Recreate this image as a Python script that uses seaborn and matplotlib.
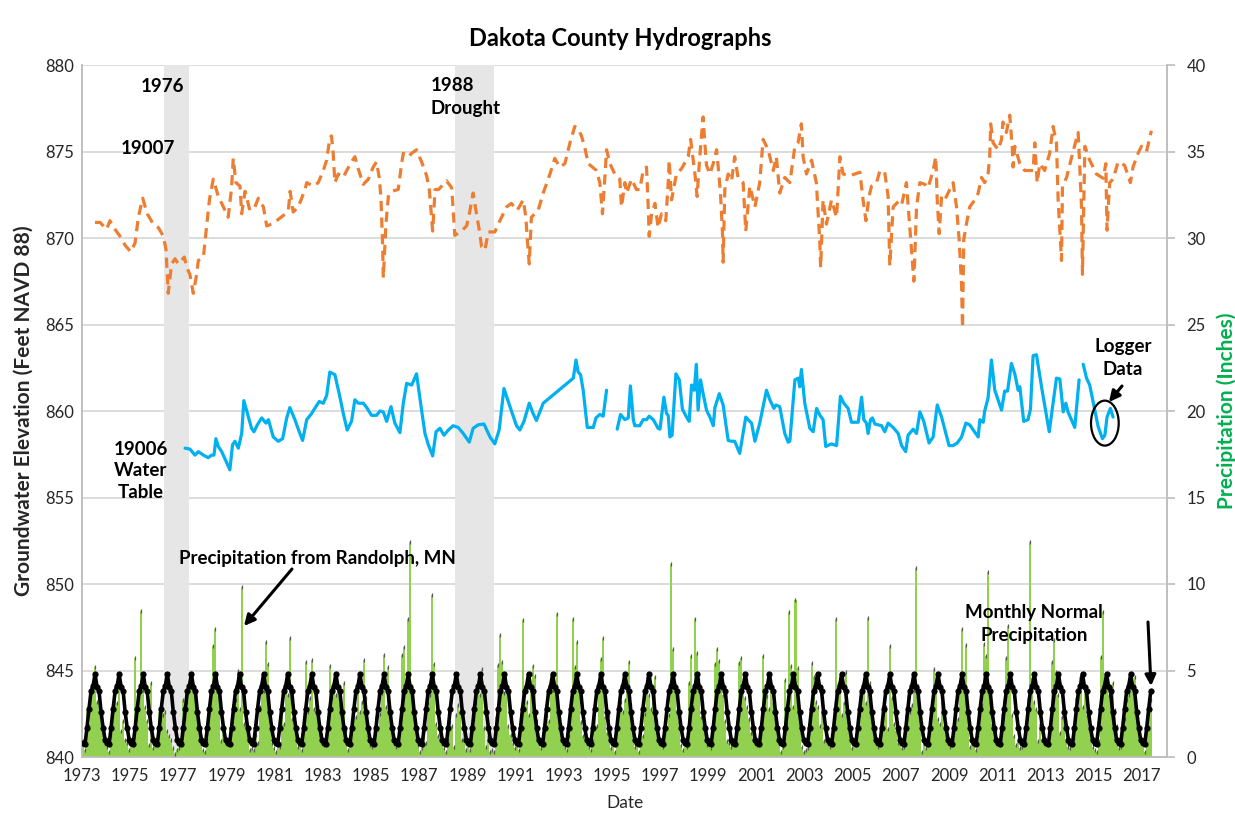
import numpy as np
import pandas as pd
import matplotlib
matplotlib.use("Agg")
import matplotlib.pyplot as plt
import seaborn as sns
from matplotlib.patches import Ellipse, FancyArrowPatch

# --- Well 19007 (decimal year, ft NAVD 88) ---
well_19007_year = [
    1973.54, 1973.75, 1974.02, 1974.16, 1974.37, 1974.58, 1974.78, 1975.02, 1975.2, 1975.34,
    1975.52, 1975.71, 1975.96, 1976.17, 1976.38, 1976.49, 1976.58, 1976.72, 1976.86, 1977.0,
    1977.25, 1977.35, 1977.48, 1977.62, 1977.76, 1977.83, 1978.04, 1978.17, 1978.29, 1978.45,
    1978.66, 1978.87, 1979.07, 1979.21, 1979.28, 1979.39, 1979.56, 1979.63, 1979.77, 1979.97,
    1980.18, 1980.32, 1980.53, 1980.67, 1980.87, 1981.08, 1981.36, 1981.57, 1981.64, 1981.77,
    1981.98, 1982.26, 1982.33, 1982.6, 1982.81, 1983.02, 1983.16, 1983.29, 1983.36, 1983.43,
    1983.5, 1983.64, 1983.85, 1983.99, 1984.19, 1984.33, 1984.47, 1984.68, 1984.89, 1985.09,
    1985.23, 1985.34, 1985.41, 1985.48, 1985.51, 1985.62, 1985.72, 1985.85, 1986.13, 1986.27,
    1986.34, 1986.55, 1986.69, 1986.89, 1987.1, 1987.31, 1987.42, 1987.56, 1987.66, 1987.8,
    1988.14, 1988.35, 1988.48, 1988.76, 1988.97, 1989.11, 1989.24, 1989.38, 1989.52, 1989.59,
    1989.73, 1989.87, 1990.14, 1990.35, 1990.63, 1990.83, 1991.07, 1991.32, 1991.43, 1991.49,
    1991.57, 1991.66, 1991.94, 1992.15, 1992.43, 1992.63, 1992.84, 1993.05, 1993.26, 1993.46,
    1993.6, 1993.74, 1993.88, 1994.02, 1994.36, 1994.5, 1994.61, 1994.71, 1994.78, 1994.92,
    1995.12, 1995.33, 1995.4, 1995.54, 1995.61, 1995.82, 1996.02, 1996.16, 1996.3, 1996.44,
    1996.51, 1996.55, 1996.65, 1996.79, 1996.92, 1997.06, 1997.24, 1997.34, 1997.38, 1997.48,
    1997.68, 1997.89, 1998.17, 1998.27, 1998.45, 1998.54, 1998.63, 1998.72, 1998.79, 1998.86,
    1998.93, 1999.07, 1999.21, 1999.35, 1999.41, 1999.51, 1999.6, 1999.62, 1999.69, 1999.83,
    1999.97, 2000.1, 2000.24, 2000.45, 2000.56, 2000.73, 2000.94, 2001.14, 2001.28, 2001.49,
    2001.7, 2001.83, 2001.97, 2002.18, 2002.39, 2002.6, 2002.73, 2002.87, 2002.94, 2003.08,
    2003.29, 2003.49, 2003.63, 2003.67, 2003.77, 2003.91, 2004.12, 2004.33, 2004.47, 2004.6,
    2004.88, 2005.3, 2005.43, 2005.55, 2005.68, 2005.78, 2005.99, 2006.13, 2006.33, 2006.47,
    2006.54, 2006.68, 2006.89, 2007.03, 2007.23, 2007.34, 2007.44, 2007.54, 2007.65, 2007.79,
    2008.0, 2008.13, 2008.34, 2008.45, 2008.51, 2008.59, 2008.69, 2008.82, 2009.03, 2009.17,
    2009.31, 2009.42, 2009.52, 2009.56, 2009.61, 2009.72, 2009.86, 2010.07, 2010.21, 2010.35,
    2010.48, 2010.62, 2010.69, 2010.73, 2010.83, 2011.04, 2011.18, 2011.24, 2011.38, 2011.52,
    2011.63, 2011.66, 2011.73, 2011.94, 2012.14, 2012.49, 2012.56, 2012.66, 2012.77, 2012.97,
    2013.18, 2013.32, 2013.46, 2013.49, 2013.53, 2013.6, 2013.67, 2013.71, 2013.88, 2014.15,
    2014.36, 2014.43, 2014.5, 2014.54, 2014.64, 2014.84, 2015.12, 2015.4, 2015.51, 2015.56,
    2015.67, 2015.81, 2016.02, 2016.29, 2016.53, 2016.64, 2016.85, 2016.99, 2017.2, 2017.4,
]
well_19007_ft = [
    870.9, 870.9, 870.5, 871.0, 870.5, 870.1, 869.6, 869.2, 869.7, 871.2,
    872.3, 871.4, 870.8, 870.6, 870.1, 869.3, 866.8, 868.5, 868.8, 868.5,
    868.9, 868.3, 867.9, 866.8, 867.9, 868.7, 868.9, 870.6, 872.2, 873.4,
    872.4, 871.8, 871.2, 872.9, 874.6, 873.2, 873.0, 871.4, 872.7, 871.6,
    871.8, 872.3, 871.8, 870.7, 870.8, 871.0, 871.3, 871.6, 872.7, 871.5,
    871.8, 872.8, 873.2, 873.0, 873.2, 873.9, 874.5, 875.8, 875.9, 874.9,
    873.2, 873.7, 873.5, 873.9, 874.4, 874.7, 874.0, 873.1, 873.4, 874.1,
    874.4, 873.5, 872.4, 869.7, 867.7, 870.8, 872.4, 872.7, 872.8, 874.3,
    874.9, 874.7, 874.9, 875.1, 874.4, 873.6, 872.8, 870.4, 872.8, 872.8,
    873.3, 872.9, 870.15, 870.4, 870.7, 871.6, 872.6, 871.4, 870.25, 869.5,
    869.3, 870.35, 870.35, 871.0, 871.8, 872.0, 871.6, 872.2, 871.2, 869.9,
    868.5, 871.2, 871.6, 872.6, 873.7, 874.6, 874.1, 874.3, 875.5, 876.45,
    876.3, 875.9, 875.2, 874.3, 873.9, 873.2, 871.4, 873.5, 875.1, 874.3,
    873.7, 873.4, 871.8, 873.2, 872.6, 873.4, 872.8, 872.8, 873.9, 874.1,
    871.8, 870.1, 871.4, 872.0, 870.6, 871.4, 871.0, 873.2, 874.5, 872.2,
    873.7, 874.0, 874.7, 875.7, 873.7, 872.4, 874.3, 875.9, 877.0, 875.5,
    874.2, 873.7, 874.3, 875.1, 874.2, 872.6, 870.1, 868.6, 872.8, 873.7,
    873.3, 874.7, 873.5, 873.2, 870.4, 873.0, 871.8, 873.2, 875.7, 875.1,
    873.9, 874.7, 872.6, 873.5, 873.2, 875.3, 875.5, 876.6, 874.7, 873.7,
    874.5, 873.2, 869.9, 868.3, 872.2, 870.8, 872.2, 871.2, 874.7, 873.7,
    873.6, 873.8, 872.2, 871.0, 872.4, 873.0, 873.2, 873.9, 873.8, 872.4,
    868.4, 871.8, 872.1, 871.9, 873.2, 871.2, 869.3, 867.5, 871.8, 873.2,
    873.1, 872.9, 873.9, 874.7, 872.2, 870.25, 872.4, 872.2, 872.8, 873.2,
    871.8, 869.9, 867.3, 864.8, 869.9, 870.8, 871.8, 872.2, 872.6, 873.5,
    873.2, 873.7, 874.7, 876.6, 875.5, 875.1, 875.7, 876.7, 876.1, 877.1,
    875.1, 874.1, 875.3, 874.3, 873.9, 873.9, 875.5, 873.2, 874.3, 873.9,
    874.9, 876.45, 875.5, 874.1, 872.2, 870.45, 868.7, 873.0, 873.5, 875.0,
    876.1, 874.1, 871.8, 867.9, 875.3, 874.5, 873.7, 873.45, 874.3, 870.45,
    873.2, 873.4, 874.4, 874.2, 873.2, 874.1, 874.9, 875.3, 875.0, 876.2,
]

# --- Well 19006 water table (decimal year, ft NAVD 88) ---
well_19006_year = [
    1977.28, 1977.48, 1977.69, 1977.83, 1978.04, 1978.24, 1978.38, 1978.48, 1978.56, 1978.66,
    1978.8, 1978.98, 1979.14, 1979.25, 1979.35, 1979.49, 1979.63, 1979.72, 1979.83, 1980.04,
    1980.14, 1980.28, 1980.46, 1980.64, 1980.74, 1980.94, 1981.15, 1981.33, 1981.5, 1981.63,
    1981.84, 1982.02, 1982.16, 1982.33, 1982.53, 1982.71, 1982.85, 1983.02, 1983.16, 1983.29,
    1983.5, 1983.71, 1983.85, 1984.01, 1984.19, 1984.33, 1984.47, 1984.68, 1984.82, 1985.02,
    1985.23, 1985.37, 1985.51, 1985.65, 1985.83, 1985.99, 1986.2, 1986.34, 1986.48, 1986.69,
    1986.89, 1987.1, 1987.24, 1987.38, 1987.56, 1987.7, 1987.86, 1988.03, 1988.21, 1988.41,
    1988.62, 1988.83, 1989.08, 1989.24, 1989.45, 1989.69, 1989.94, 1990.14, 1990.32, 1990.52,
    1990.77, 1991.04, 1991.18, 1991.35, 1991.57, 1991.73, 1991.87, 1992.15, 1993.4, 1993.51,
    1993.6, 1993.7, 1993.81, 1993.98, 1994.23, 1994.34, 1994.5, 1994.64, 1994.78,
    1995.22, 1995.36, 1995.54, 1995.68, 1995.77, 1995.89, 1995.95, 1996.16, 1996.3, 1996.44,
    1996.55, 1996.72, 1996.92, 1997.0, 1997.16, 1997.27, 1997.34, 1997.41, 1997.5, 1997.66,
    1997.8, 1997.93, 1998.1, 1998.21, 1998.31, 1998.42, 1998.51, 1998.58, 1998.68, 1998.79,
    1998.93, 1999.07, 1999.21, 1999.28, 1999.46, 1999.62, 1999.83, 1999.97, 2000.1, 2000.31,
    2000.56, 2000.66, 2000.8, 2000.94, 2001.14, 2001.42, 2001.56, 2001.73, 2001.81, 2001.97,
    2002.18, 2002.32, 2002.39, 2002.6, 2002.74, 2002.8, 2002.87, 2003.01, 2003.22, 2003.36,
    2003.5, 2003.64, 2003.77, 2003.88, 2004.12, 2004.33, 2004.49, 2004.63, 2004.81, 2004.95,
    2005.23, 2005.37, 2005.46, 2005.57, 2005.64, 2005.74, 2005.82, 2005.92, 2006.2, 2006.33,
    2006.47, 2006.68, 2006.89, 2007.03, 2007.2, 2007.3, 2007.51, 2007.65, 2007.79, 2007.95,
    2008.17, 2008.34, 2008.51, 2008.69, 2009.0, 2009.17, 2009.34, 2009.52, 2009.7, 2009.86,
    2010.03, 2010.21, 2010.28, 2010.35, 2010.42, 2010.48, 2010.62, 2010.76, 2010.9, 2011.18,
    2011.31, 2011.43, 2011.59, 2011.73, 2011.87, 2011.94, 2012.1, 2012.28, 2012.38, 2012.49,
    2012.63, 2012.84, 2013.16, 2013.46, 2013.6, 2013.74, 2013.85, 2013.94, 2014.22, 2014.4,
    2014.57, 2014.71, 2014.84, 2014.98, 2015.19, 2015.37, 2015.47, 2015.56, 2015.7, 2015.81,
]
well_19006_ft = [
    857.85, 857.8, 857.45, 857.65, 857.45, 857.3, 857.45, 857.45, 858.4, 857.95,
    857.65, 857.1, 856.6, 858.05, 858.25, 857.85, 858.7, 860.6, 860.05, 859.0,
    858.8, 859.2, 859.6, 859.3, 859.5, 858.5, 858.25, 858.4, 859.6, 860.2,
    859.5, 858.8, 858.3, 859.5, 859.85, 860.25, 860.55, 860.45, 860.9, 862.25,
    862.1, 860.8, 859.85, 858.9, 859.4, 860.65, 860.45, 860.45, 860.2, 859.75,
    859.75, 860.0, 859.95, 859.4, 860.25, 859.3, 858.75, 860.45, 861.6, 861.5,
    862.15, 860.05, 858.7, 858.05, 857.4, 858.8, 859.0, 858.6, 858.9, 859.15,
    859.05, 858.7, 858.2, 859.0, 859.2, 859.25, 858.5, 858.1, 858.9, 861.3,
    860.25, 859.15, 858.9, 859.4, 860.45, 859.85, 859.45, 860.45, 861.9, 862.95,
    862.25, 862.1, 861.2, 859.05, 859.05, 859.6, 859.8, 859.7, 861.2,
    858.95, 859.8, 859.5, 859.6, 861.45, 859.5, 859.15, 859.15, 859.5, 859.5,
    859.7, 859.5, 859.0, 858.95, 860.8, 859.85, 859.75, 858.5, 858.6, 862.15,
    861.8, 860.1, 859.65, 859.4, 861.5, 861.2, 862.7, 860.05, 861.8, 861.0,
    860.05, 859.65, 859.15, 860.2, 861.0, 860.35, 858.3, 858.25, 858.25, 857.55,
    859.65, 859.5, 859.3, 858.25, 859.3, 861.2, 860.65, 860.15, 860.35, 860.25,
    858.7, 858.2, 858.25, 861.8, 861.9, 861.4, 862.4, 860.45, 859.0, 858.8,
    860.15, 859.75, 859.5, 857.95, 858.1, 858.0, 860.85, 860.45, 860.15, 859.35,
    859.35, 860.8, 859.5, 859.3, 858.7, 859.5, 859.6, 859.25, 859.15, 858.8,
    859.3, 859.05, 858.7, 858.0, 857.65, 858.6, 858.95, 858.7, 859.95, 859.4,
    858.15, 858.5, 860.35, 859.65, 858.0, 858.0, 858.15, 858.5, 859.3, 859.2,
    858.85, 858.5, 859.5, 859.4, 859.35, 860.0, 860.75, 862.95, 861.2, 860.05,
    861.15, 861.15, 862.75, 862.15, 861.2, 861.4, 859.4, 859.5, 860.1, 863.2,
    863.25, 861.4, 858.8, 861.9, 861.85, 859.95, 860.45, 859.95, 859.05, 861.8,
    862.7, 861.9, 861.5, 860.55, 859.1, 858.4, 858.6, 859.65, 860.15, 859.65,
]
# record breaks (no readings in between)
well_19006_breaks = [1995.0, 2014.5]

# --- Monthly precipitation at Randolph, MN (inches), Jan 1973 - May 2017 ---
precip_start_year = 1973
precip_in = [
    0.9, 0.4, 2.7, 1.8, 3.6, 3.9, 5.2, 3.2, 3.4, 2.3, 1.4, 0.9,     # 1973
    0.6, 0.3, 1.3, 2.5, 4.1, 3.1, 4.2, 1.5, 2.1, 1.0, 0.8, 0.4,     # 1974
    1.0, 0.9, 5.75, 2.6, 3.8, 8.45, 3.9, 2.9, 2.1, 0.7, 4.25, 0.5,  # 1975
    0.7, 0.9, 2.6, 2.7, 2.4, 2.6, 1.5, 1.2, 1.0, 0.5, 0.2, 0.4,     # 1976
    0.5, 0.9, 3.3, 2.2, 3.2, 3.9, 4.6, 4.2, 3.9, 2.6, 1.8, 1.2,     # 1977
    0.4, 0.3, 1.0, 2.9, 3.7, 6.4, 7.4, 4.8, 3.6, 0.9, 1.7, 0.8,     # 1978
    0.9, 1.1, 2.2, 3.0, 3.3, 5.0, 2.8, 9.85, 1.9, 1.8, 1.2, 0.4,    # 1979
    0.5, 0.4, 1.3, 0.8, 2.9, 4.3, 3.8, 6.65, 5.4, 1.6, 0.8, 0.5,    # 1980
    0.3, 0.9, 0.6, 2.6, 1.9, 4.4, 3.6, 6.85, 2.2, 2.4, 1.5, 0.6,    # 1981
    0.9, 0.4, 1.8, 5.5, 2.6, 3.4, 5.6, 2.8, 3.4, 2.9, 1.4, 1.3,     # 1982
    0.7, 0.9, 2.3, 5.25, 3.4, 3.9, 3.6, 4.1, 3.0, 2.7, 4.3, 1.5,    # 1983
    0.4, 1.1, 1.9, 2.8, 2.3, 3.9, 2.6, 3.2, 5.6, 3.4, 1.2, 0.7,     # 1984
    0.6, 0.8, 2.3, 1.6, 2.5, 3.7, 5.9, 2.9, 5.2, 2.8, 1.8, 0.9,     # 1985
    0.6, 0.8, 1.9, 5.9, 6.35, 3.8, 7.95, 12.45, 4.1, 2.6, 1.5, 0.7, # 1986
    0.3, 0.5, 1.9, 0.8, 3.1, 3.6, 9.35, 5.4, 1.9, 1.2, 1.4, 0.9,    # 1987
    0.5, 0.3, 1.0, 2.0, 1.8, 0.6, 2.4, 3.0, 2.6, 1.0, 1.9, 0.4,     # 1988
    0.7, 0.4, 1.6, 2.2, 3.1, 4.2, 3.6, 5.1, 1.7, 0.6, 1.2, 0.3,     # 1989
    0.4, 0.3, 2.3, 5.3, 7.05, 5.5, 3.7, 4.2, 1.8, 1.3, 0.8, 0.5,    # 1990
    0.7, 0.4, 2.5, 7.9, 3.6, 3.2, 2.4, 4.0, 5.25, 4.7, 2.1, 0.8,    # 1991
    0.5, 0.7, 1.9, 2.4, 2.1, 3.8, 3.9, 4.0, 8.25, 2.5, 1.9, 1.0,    # 1992
    0.6, 0.4, 1.2, 2.6, 8.0, 5.2, 6.65, 4.3, 2.0, 1.2, 1.6, 0.8,    # 1993
    0.6, 0.4, 0.9, 2.9, 1.8, 4.4, 5.65, 6.9, 2.3, 1.4, 2.4, 0.5,    # 1994
    0.8, 0.3, 1.8, 2.4, 3.2, 2.6, 3.3, 4.2, 5.5, 3.0, 1.4, 0.6,     # 1995
    1.0, 0.3, 1.6, 1.2, 2.5, 4.6, 3.6, 2.8, 3.2, 4.65, 2.1, 0.9,    # 1996
    0.8, 0.6, 1.4, 1.7, 2.4, 11.15, 6.25, 3.8, 2.7, 2.0, 0.7, 0.4,  # 1997
    0.9, 0.6, 4.25, 5.85, 2.9, 8.0, 6.0, 4.5, 2.3, 3.1, 1.4, 0.7,   # 1998
    1.0, 0.5, 1.8, 5.4, 6.25, 5.55, 4.0, 3.6, 2.1, 0.9, 0.8, 0.6,   # 1999
    0.8, 0.9, 1.6, 5.45, 5.75, 4.4, 3.4, 2.9, 2.2, 1.4, 2.6, 1.1,   # 2000
    0.7, 0.9, 1.2, 5.85, 3.9, 3.5, 2.8, 4.2, 3.1, 2.2, 1.8, 0.8,    # 2001
    0.3, 0.6, 4.45, 1.9, 8.4, 5.25, 2.9, 9.05, 5.15, 2.6, 0.6, 0.3, # 2002
    0.4, 0.5, 1.8, 5.45, 4.6, 3.2, 2.9, 1.8, 2.6, 0.9, 1.6, 0.8,    # 2003
    0.6, 1.0, 2.3, 7.95, 4.2, 4.0, 2.4, 3.1, 4.9, 2.7, 1.3, 0.5,    # 2004
    0.9, 0.7, 1.6, 2.4, 3.7, 4.4, 3.1, 8.05, 4.3, 2.9, 1.5, 0.8,    # 2005
    0.6, 0.8, 1.9, 3.1, 2.9, 1.6, 6.4, 3.4, 1.9, 1.5, 0.8, 1.5,     # 2006
    0.5, 0.6, 2.4, 3.6, 2.6, 3.0, 3.9, 10.9, 4.1, 2.8, 0.3, 1.0,    # 2007
    0.5, 0.7, 1.7, 2.9, 5.1, 4.4, 2.2, 1.9, 3.2, 1.8, 1.3, 1.2,     # 2008
    0.6, 0.8, 2.0, 2.4, 2.2, 4.3, 7.4, 3.8, 6.5, 2.5, 0.6, 1.6,     # 2009
    0.7, 0.4, 1.3, 2.3, 3.0, 6.55, 5.85, 10.7, 3.2, 1.9, 1.7, 1.5,  # 2010
    0.8, 0.7, 2.5, 3.3, 5.7, 7.55, 4.2, 2.4, 1.2, 0.7, 0.9, 0.5,    # 2011
    0.6, 0.9, 1.7, 3.4, 12.45, 4.55, 3.2, 2.8, 0.9, 1.9, 1.0, 1.1,  # 2012
    0.8, 0.7, 1.6, 5.5, 6.75, 4.9, 3.6, 1.4, 2.3, 2.9, 0.9, 0.6,    # 2013
    0.5, 0.9, 1.1, 3.4, 2.8, 4.6, 2.9, 3.9, 2.4, 1.6, 1.4, 0.6,     # 2014
    0.4, 0.3, 0.9, 5.8, 8.4, 4.3, 4.1, 3.6, 3.0, 4.25, 2.7, 1.8,    # 2015
    0.5, 0.6, 1.8, 2.2, 3.3, 3.6, 4.1, 3.7, 4.6, 2.5, 1.9, 0.9,     # 2016
    0.8, 0.3, 1.6, 3.1, 3.3,                                        # 2017
]

# Monthly normal precipitation (Jan..Dec), repeats every year
normal_monthly_in = [0.8, 0.75, 1.7, 2.8, 3.8, 4.1, 4.8, 4.05, 3.8, 2.6, 1.7, 1.0]

drought_spans = [(1976.40, 1977.44), (1988.48, 1990.10)]
year_ticks = list(range(1973, 2018, 2))

# --- build frames ---
df07 = pd.DataFrame({"year": well_19007_year, "ft": well_19007_ft})
df06 = pd.DataFrame({"year": well_19006_year, "ft": well_19006_ft})
df06["seg"] = np.searchsorted(well_19006_breaks, df06["year"])

n_months = len(precip_in)
month_idx = np.arange(n_months)
dfp = pd.DataFrame({
    "year": precip_start_year + month_idx // 12 + (month_idx % 12 + 0.5) / 12,
    "precip": precip_in,
    "normal": np.array(normal_monthly_in)[month_idx % 12],
})

# --- style ---
sns.set_theme(style="white")
plt.rcParams["font.family"] = ["Lato", "DejaVu Sans"]
W, H = 1235, 821
fig = plt.figure(figsize=(W / 100, H / 100), dpi=100)
ax = fig.add_axes([82 / W, 1 - 757 / H, (1167 - 82) / W, (757 - 65) / H])
ax2 = ax.twinx()

grid_c = "#D9D9D9"
axis_c = "#BFBFBF"
txt_c = "#262626"

# groundwater axis
ax.set_xlim(1973, 2018.05)
ax.set_ylim(840, 880)
ax.set_yticks(range(840, 881, 5))
ax.set_xticks(year_ticks)
ax.set_xticklabels([str(y) for y in year_ticks])
ax.yaxis.grid(True, color=grid_c, lw=1.3, zorder=0)
ax.set_axisbelow(True)

for a, b in drought_spans:
    ax.axvspan(a, b, color="#E7E6E6", lw=0, zorder=1)

sns.lineplot(data=df07, x="year", y="ft", ax=ax, color="#ED7D31", lw=2.3,
             linestyle=(0, (3.2, 2.0)), sort=False, zorder=3)
sns.lineplot(data=df06, x="year", y="ft", units="seg", estimator=None, ax=ax,
             color="#00B0F0", lw=2.3, sort=False, zorder=3)

ax.add_patch(Ellipse((2015.47, 859.3), 1.15, 2.6, fill=False, ec="black", lw=1.6, zorder=4))

# precipitation axis
ax2.set_ylim(0, 40)
ax2.set_yticks(range(0, 41, 5))
ax2.bar(dfp["year"], dfp["precip"], width=1 / 12, color="#92D050", lw=0, zorder=2)
ax2.plot(dfp["year"], dfp["precip"], ls="none", marker="|", ms=3, mew=0.9, color="#595959", zorder=3)
sns.lineplot(data=dfp, x="year", y="normal", ax=ax2, color="black", lw=2.6,
             marker="o", markersize=4.5, markeredgewidth=0, sort=False, zorder=4)

# spines / ticks
for a in (ax, ax2):
    a.spines["top"].set_visible(False)
    for s in ("left", "right", "bottom"):
        a.spines[s].set_color(axis_c)
        a.spines[s].set_linewidth(1.2)
ax.tick_params(axis="x", direction="out", length=5, color=axis_c, labelsize=12, labelcolor=txt_c, pad=3)
ax.tick_params(axis="y", length=0, labelsize=12, labelcolor=txt_c, pad=6)
ax2.tick_params(axis="y", direction="out", length=6, color=axis_c, labelsize=12, labelcolor=txt_c, pad=8)

ax.set_xlabel("Date", fontsize=12.5, color=txt_c, labelpad=8)
ax.set_ylabel("Groundwater Elevation (Feet NAVD 88)", fontsize=15, fontweight="bold", color=txt_c, labelpad=8)
ax2.set_ylabel("Precipitation (Inches)", fontsize=15, fontweight="bold", color="#00B050",
               rotation=90, labelpad=8)

fig.text(620 / W, 1 - 38 / H, "Dakota County Hydrographs", ha="center", va="center",
         fontsize=17, fontweight="bold", color="black")


def fx(x, y):
    return (x / W, 1 - y / H)


bold = dict(fontweight="bold", color="black", fontsize=13.5)
fig.text(*fx(162, 87), "1976", ha="center", va="center", **bold)
fig.text(*fx(148, 149), "19007", ha="center", va="center", **bold)
fig.text(*fx(431, 77), "1988\nDrought", ha="left", va="top", linespacing=1.45, **bold)
fig.text(*fx(141, 471), "19006\nWater\nTable", ha="center", va="center", multialignment="center",
         linespacing=1.3, **bold)
fig.text(*fx(317, 558), "Precipitation from Randolph, MN", ha="center", va="center", **bold)
fig.text(*fx(1123, 358), "Logger\nData", ha="center", va="center", multialignment="center",
         linespacing=1.4, **bold)
fig.text(*fx(1034, 624), "Monthly Normal\nPrecipitation", ha="center", va="center",
         multialignment="center", linespacing=1.45, **bold)

arrow = dict(arrowstyle="-|>", color="black", lw=2.2, mutation_scale=16, shrinkA=0, shrinkB=0)
for tail, head in [((292, 569), (244, 626)), ((1122, 386), (1109, 402)), ((1148, 622), (1151, 686))]:
    fig.add_artist(FancyArrowPatch(fx(*tail), fx(*head), transform=fig.transFigure, **arrow))

fig.savefig("out.png", dpi=100)
